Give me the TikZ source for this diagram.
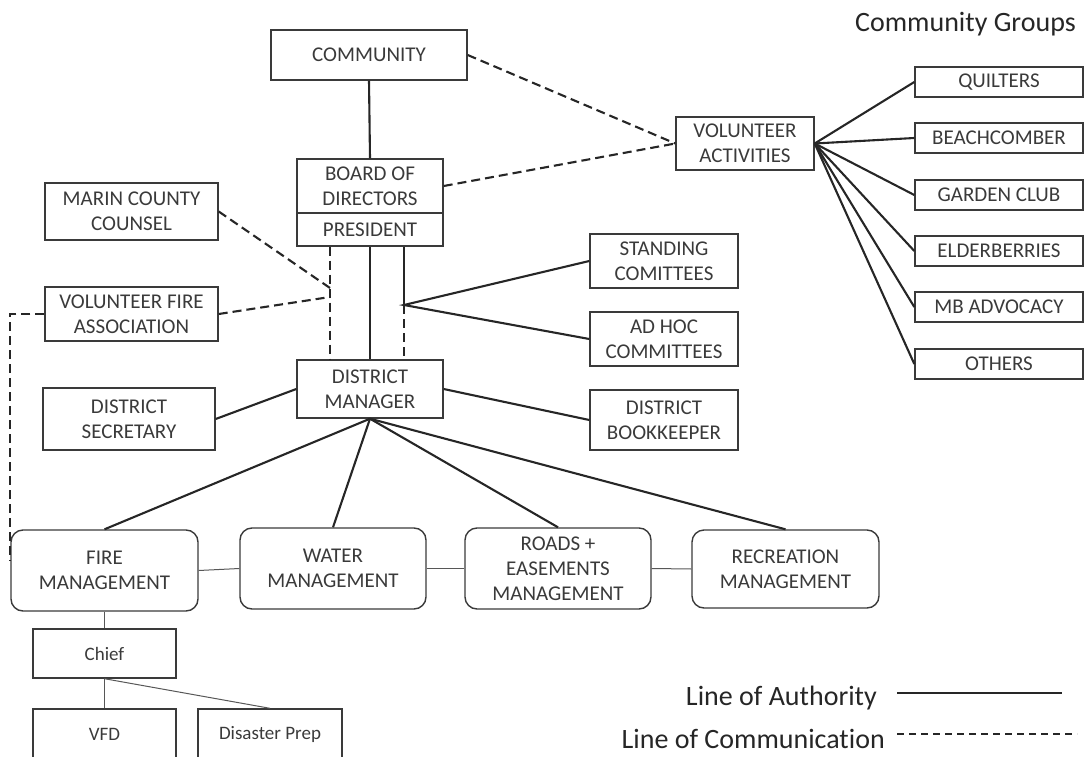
\documentclass[tikz,border=0pt]{standalone}
\usepackage{fontspec}
\setmainfont{Carlito}[Ligatures=NoCommon]
\usepackage{xcolor}
\usepackage{tikz}
\definecolor{ink}{HTML}{3A3A3A}

\begin{document}
\begin{tikzpicture}[x=1pt,y=-1pt,
    box/.style={rectangle,draw=ink,line width=1.4pt,text=ink,align=center,inner sep=0pt,
                font=\fontsize{21}{25}\selectfont},
    mgmt/.style={box,rounded corners=12pt},
    minor/.style={box,font=\fontsize{19}{22}\selectfont},
    authline/.style={line width=2.1pt,black!85},
    link/.style={line width=1pt,ink!85},
    commline/.style={line width=2.1pt,black!85,dash pattern=on 9pt off 5pt},
    legend/.style={font=\fontsize{28}{30}\selectfont,text=black!85,anchor=base east,inner sep=0pt}
]
\useasboundingbox (0,0) rectangle (1089,757);

\node[box,minimum width=196,minimum height=50] (community) at (369,55) {COMMUNITY};
\node[box,minimum width=146,minimum height=54] (board) at (370,186) {BOARD OF\\DIRECTORS};
\node[box,minimum width=146,minimum height=33] (pres) at (370,229.5) {PRESIDENT};
\node[box,minimum width=138,minimum height=53] (va) at (745,143.5) {VOLUNTEER\\ACTIVITIES};

\node[legend] (groups) at (1076,32) {Community Groups};
\node[box,minimum width=168,minimum height=30] (quilt) at (999,82) {QUILTERS};
\node[box,minimum width=168,minimum height=30] (beach) at (999,138) {BEACHCOMBER};
\node[box,minimum width=168,minimum height=30] (garden) at (999,195) {GARDEN CLUB};
\node[box,minimum width=168,minimum height=30] (elder) at (999,251) {ELDERBERRIES};
\node[box,minimum width=168,minimum height=30] (mb) at (999,307) {MB ADVOCACY};
\node[box,minimum width=168,minimum height=30] (others) at (999,364) {OTHERS};

\node[box,minimum width=173,minimum height=57] (marin) at (131.5,211.5) {MARIN COUNTY\\COUNSEL};
\node[box,minimum width=173,minimum height=54] (vfa) at (131.5,314) {VOLUNTEER FIRE\\ASSOCIATION};
\node[box,minimum width=148,minimum height=54] (stand) at (664,261) {STANDING\\COMITTEES};
\node[box,minimum width=148,minimum height=54] (adhoc) at (664,339) {AD HOC\\COMMITTEES};

\node[box,minimum width=146,minimum height=58] (dm) at (370,389) {DISTRICT\\MANAGER};
\node[box,minimum width=172,minimum height=62] (ds) at (129,419) {DISTRICT\\SECRETARY};
\node[box,minimum width=148,minimum height=60] (db) at (664,420) {DISTRICT\\BOOKKEEPER};

\node[mgmt,minimum width=187,minimum height=81] (fire) at (104.5,570.5) {FIRE\\MANAGEMENT};
\node[mgmt,minimum width=186,minimum height=81] (water) at (333,568.5) {WATER\\MANAGEMENT};
\node[mgmt,minimum width=186,minimum height=81] (roads) at (558,568.5) {ROADS +\\EASEMENTS\\MANAGEMENT};
\node[mgmt,minimum width=187,minimum height=78] (rec) at (785.5,569) {RECREATION\\MANAGEMENT};

\node[minor,minimum width=143,minimum height=49] (chief) at (104.5,653.5) {Chief};
\node[minor,minimum width=143,minimum height=50] (vfd) at (104.5,734) {VFD};
\node[minor,minimum width=144,minimum height=50] (prep) at (270,734) {Disaster Prep};

\draw[authline] (community.south) -- (board.north);
\draw[commline] (community.east) -- (va.west);
\draw[commline] (board.east) -- (va.west);
\draw[authline] (va.east) -- (quilt.west);
\draw[authline] (va.east) -- (beach.west);
\draw[authline] (va.east) -- (garden.west);
\draw[authline] (va.east) -- (elder.west);
\draw[authline] (va.east) -- (mb.west);
\draw[authline] (va.east) -- (others.west);

\coordinate (fork) at (404,305);
\coordinate (mc) at (330,288);
\coordinate (vf) at (330,297);
\draw[commline] (pres.south -| 330,0) -- (dm.north -| 330,0);
\draw[authline] (pres.south) -- (dm.north);
\draw[authline] (pres.south -| fork) -- (fork);
\draw[commline] (fork) -- (dm.north -| fork);
\draw[authline] (stand.west) -- (fork) -- (adhoc.west);
\draw[commline] (marin.east) -- (mc);
\draw[commline] (vfa.east) -- (vf);
\draw[commline] (vfa.west) -| ([yshift=10pt]fire.west);

\draw[authline] (ds.east) -- (dm.west);
\draw[authline] (dm.east) -- (db.west);
\draw[authline] (dm.south) -- (fire.north);
\draw[authline] (dm.south) -- (water.north);
\draw[authline] (dm.south) -- (roads.north);
\draw[authline] (dm.south) -- (rec.north);

\draw[link] (fire.east) -- (water.west);
\draw[link] (water.east) -- (roads.west);
\draw[link] (roads.east) -- (rec.west);
\draw[link] (fire.south) -- (chief.north);
\draw[link] (chief.south) -- (vfd.north);
\draw[link] (chief.south) -- (prep.north);

\node[legend] (lauth) at (877,705) {Line of Authority};
\node[legend] (lcomm) at (885,748) {Line of Communication};
\coordinate (la1) at (897,693);
\coordinate (la2) at (1062,693);
\coordinate (lc1) at (897,734);
\coordinate (lc2) at (1077,734);
\draw[authline,line width=1.5pt] (la1) -- (la2);
\draw[commline,line width=1.5pt,dash pattern=on 7pt off 5pt] (lc1) -- (lc2);
\end{tikzpicture}
\end{document}
